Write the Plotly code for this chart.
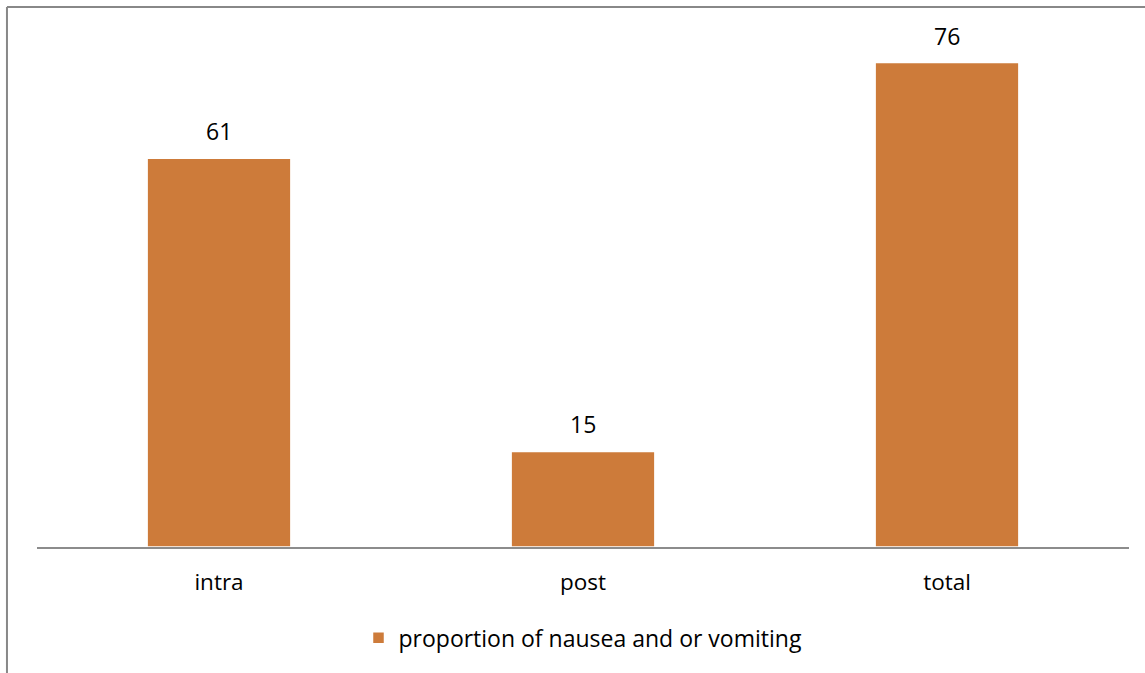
import plotly.graph_objects as go

categories = ["intra", "post", "total"]
values = [61, 15, 76]
series_name = "proportion of nausea and or vomiting"

bar_color = "#CD7B3A"
font_family = "'Open Sans', sans-serif"

fig = go.Figure()
fig.add_trace(go.Bar(
    x=categories,
    y=values,
    name=series_name,
    marker=dict(color=bar_color, line=dict(color="white", width=1.5)),
    showlegend=True,
))

# value labels above each bar
for cat, val in zip(categories, values):
    fig.add_annotation(
        x=cat, y=val, text=str(val), showarrow=False,
        yanchor="bottom", yshift=9,
        font=dict(family=font_family, size=23, color="#000000"),
    )

# outer chart border (left and top edges)
fig.add_shape(type="line", xref="paper", yref="paper",
              x0=-0.0275, x1=-0.0275, y0=-0.3, y1=1.0588,
              line=dict(color="#888888", width=2))
fig.add_shape(type="line", xref="paper", yref="paper",
              x0=-0.0275, x1=1.02, y0=1.0588, y1=1.0588,
              line=dict(color="#888888", width=2))

fig.update_layout(
    width=1145, height=673,
    margin=dict(l=37, r=16, t=37, b=126),
    paper_bgcolor="white", plot_bgcolor="white",
    bargap=0.605,
    font=dict(family=font_family, size=22, color="#000000"),
    xaxis=dict(
        showline=True, linecolor="#8C8C8C", linewidth=2,
        ticks="outside", ticklen=14, tickcolor="rgba(0,0,0,0)",
        tickfont=dict(size=22.5), showgrid=False, zeroline=False,
    ),
    yaxis=dict(range=[0, 80], visible=False, showgrid=False, zeroline=False),
    legend=dict(orientation="h", x=0.5, xanchor="center", y=-0.178, yanchor="middle",
                font=dict(size=23), itemwidth=30),
)

fig.write_html("out.html")
